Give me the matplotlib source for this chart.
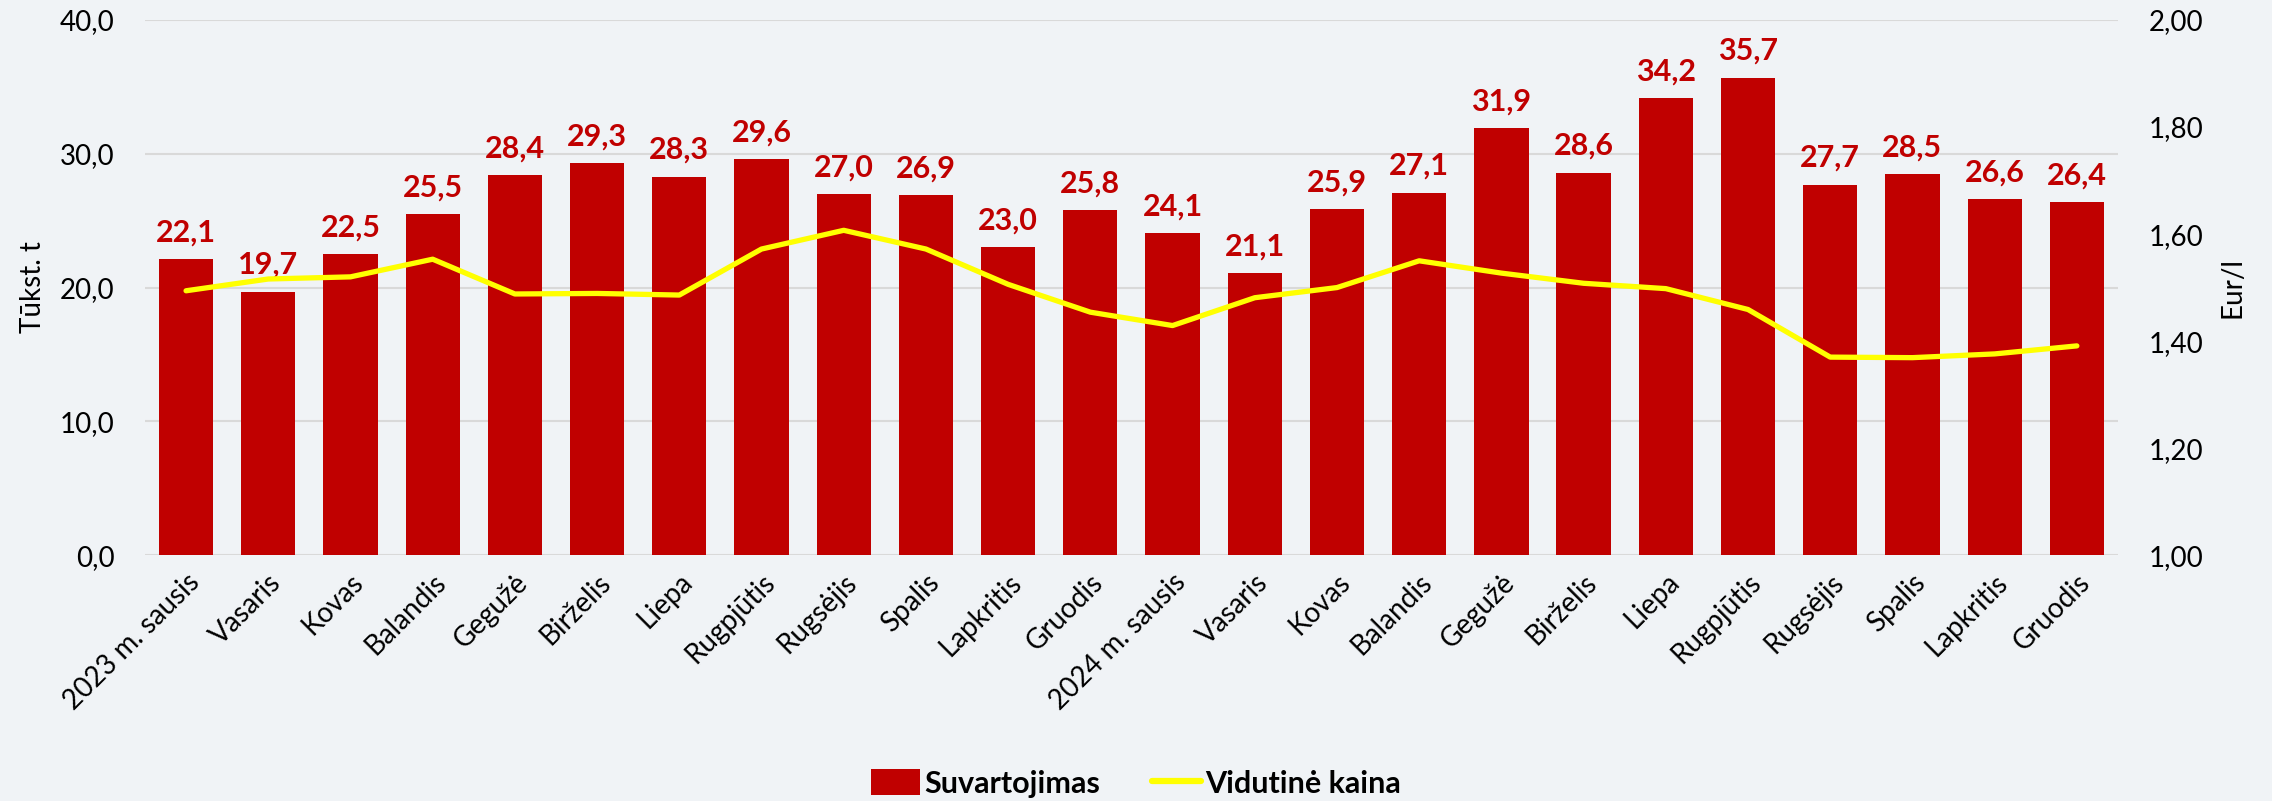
import matplotlib
matplotlib.use("Agg")
import matplotlib.pyplot as plt
from matplotlib.patches import Patch
from matplotlib.lines import Line2D
import numpy as np

# data
months = ["2023 m. sausis", "Vasaris", "Kovas", "Balandis", "Gegužė", "Birželis",
          "Liepa", "Rugpjūtis", "Rugsėjis", "Spalis", "Lapkritis", "Gruodis",
          "2024 m. sausis", "Vasaris", "Kovas", "Balandis", "Gegužė", "Birželis",
          "Liepa", "Rugpjūtis", "Rugsėjis", "Spalis", "Lapkritis", "Gruodis"]
suvartojimas = [22.1, 19.7, 22.5, 25.5, 28.4, 29.3, 28.3, 29.6, 27.0, 26.9, 23.0, 25.8,
                24.1, 21.1, 25.9, 27.1, 31.9, 28.6, 34.2, 35.7, 27.7, 28.5, 26.6, 26.4]
kaina = [1.494, 1.516, 1.520, 1.553, 1.488, 1.489, 1.486, 1.572, 1.607, 1.572, 1.506, 1.454,
         1.429, 1.481, 1.500, 1.550, 1.527, 1.508, 1.498, 1.459, 1.370, 1.369, 1.376, 1.391]

bar_color = "#C00000"
line_color = "#FFFF00"
bg = "#F0F3F6"
font = ["Lato", "DejaVu Sans"]

fig = plt.figure(figsize=(22.72, 8.01), dpi=100, facecolor=bg)
ax = fig.add_axes([0.0638, 0.307, 0.8684, 0.668])
ax.set_facecolor(bg)
x = np.arange(len(months))

ax.bar(x, suvartojimas, width=0.66, color=bar_color, zorder=2)
for xi, v in zip(x, suvartojimas):
    ax.annotate(f"{v:.1f}".replace(".", ","), (xi, v), xytext=(0, 9),
                textcoords="offset points", ha="center", va="bottom",
                color=bar_color, fontsize=22, fontweight="bold", family=font)

ax.set_ylim(0, 40)
ax.set_xlim(-0.5, len(months) - 0.5)
ax.set_yticks(np.arange(0, 41, 10))
ax.set_yticklabels([f"{t:.1f}".replace(".", ",") for t in np.arange(0, 41, 10)],
                   family=font, fontsize=20)
ax.yaxis.grid(True, color="#D9D9D9", linewidth=1.5, zorder=0)
ax.set_axisbelow(True)
ax.set_xticks(x)
ax.set_xticklabels(months, rotation=45, ha="right", rotation_mode="anchor",
                   family=font, fontsize=20)
ax.tick_params(axis="y", length=0, pad=22)
ax.tick_params(axis="x", length=0, pad=10)
ax.set_ylabel("Tūkst. t", family=font, fontsize=20, labelpad=10)
for s in ax.spines.values():
    s.set_visible(False)

ax2 = ax.twinx()
ax2.plot(x, kaina, color=line_color, linewidth=3.8, solid_capstyle="round", zorder=3)
ax2.set_ylim(1.0, 2.0)
ax2.set_yticks(np.arange(1.0, 2.01, 0.2))
ax2.set_yticklabels([f"{t:.2f}".replace(".", ",") for t in np.arange(1.0, 2.01, 0.2)],
                    family=font, fontsize=20)
ax2.tick_params(axis="y", length=0, pad=22)
ax2.set_ylabel("Eur/l", family=font, fontsize=20, labelpad=12)
for s in ax2.spines.values():
    s.set_visible(False)

handles = [Patch(facecolor=bar_color, edgecolor="none"),
           Line2D([0], [0], color=line_color, linewidth=4.5, solid_capstyle="round")]
fig.legend(handles, ["Suvartojimas", "Vidutinė kaina"], loc="lower center",
           bbox_to_anchor=(0.5, -0.03), ncol=2, frameon=False,
           prop={"family": font, "weight": "bold", "size": 22},
           handlelength=1.6, handleheight=0.9, handletextpad=0.15, columnspacing=1.7)

fig.savefig("out.png", dpi=100, facecolor=bg)
